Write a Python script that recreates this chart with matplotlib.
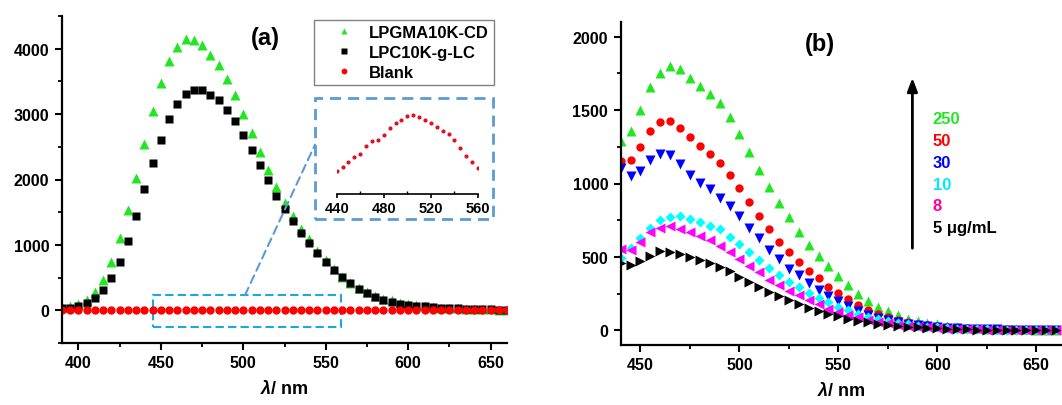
import matplotlib
matplotlib.use("Agg")
import matplotlib.pyplot as plt
from matplotlib.patches import Rectangle, ConnectionPatch
from matplotlib.ticker import MultipleLocator
import numpy as np

plt.rcParams['font.family'] = ['Liberation Sans', 'DejaVu Sans']
plt.rcParams['font.weight'] = 'bold'
plt.rcParams['mathtext.fontset'] = 'custom'
plt.rcParams['mathtext.it'] = 'Liberation Sans:bold:italic'
plt.rcParams['mathtext.rm'] = 'Liberation Sans:bold'
plt.rcParams['mathtext.bf'] = 'Liberation Sans:bold'

# (a) emission spectra, 390-660 nm
wl_a = np.arange(390, 661, 5)
lpgma = [50, 60, 100, 150, 280, 460, 740, 1105, 1540, 2030,
         2550, 3050, 3475, 3810, 4020, 4150, 4140, 4050, 3910, 3755,
         3530, 3285, 3000, 2710, 2420, 2150, 1885, 1640, 1435, 1250,
         1085, 905, 765, 630, 515, 420, 340, 280, 225, 180,
         150, 115, 95, 75, 65, 50, 40, 35, 30, 25,
         20, 18, 15, 12, 10]
lpc = [35, 40, 65, 115, 195, 315, 500, 745, 1060, 1440,
       1850, 2245, 2610, 2930, 3160, 3310, 3375, 3365, 3285, 3220,
       3065, 2900, 2680, 2455, 2215, 1985, 1755, 1555, 1360, 1185,
       1035, 880, 745, 620, 505, 415, 325, 260, 210, 165,
       130, 100, 85, 70, 60, 50, 42, 35, 30, 25,
       20, 18, 15, 12, 10]
blank = [1.2, 1.4, 1.6, 1.8, 2.0, 2.2, 2.5, 2.7, 3.0, 3.2,
         3.5, 4.1, 4.9, 5.6, 6.2, 7.35, 8.1, 8.35, 9.1, 10.2,
         10.95, 11.35, 11.9, 12.1, 11.85, 11.35, 10.9, 10.25, 9.6, 9.25,
         8.35, 7.0, 5.85, 4.9, 4.0, 3.4, 3.0, 2.7, 2.4, 2.2,
         2.0, 1.8, 1.7, 1.6, 1.5, 1.4, 1.3, 1.2, 1.1, 1.0,
         1.0, 0.9, 0.9, 0.8, 0.8]

# (b) concentration series, 440-660 nm
wl_b = np.arange(440, 661, 5)
c250 = [1291, 1360, 1503, 1656, 1754, 1800, 1781, 1720, 1667, 1613,
        1549, 1451, 1337, 1212, 1093, 973, 866, 770, 672, 581,
        506, 435, 367, 308, 248, 198, 159, 132, 103, 80,
        64, 50, 41, 30, 23, 18, 15, 12, 10, 8,
        7, 6, 5, 4, 4]
c50 = [1150, 1157, 1248, 1355, 1417, 1426, 1376, 1314, 1253, 1203,
       1139, 1059, 968, 875, 779, 690, 604, 531, 467, 405,
       353, 296, 255, 210, 175, 141, 114, 91, 73, 57,
       45, 35, 28, 22, 17, 13, 10, 8, 7, 6,
       5, 4, 4, 3, 3]
c30 = [1105, 1048, 1087, 1162, 1203, 1196, 1132, 1059, 1002, 964,
       904, 850, 779, 699, 626, 547, 483, 417, 376, 319,
       278, 235, 198, 166, 132, 107, 84, 68, 55, 44,
       35, 28, 22, 17, 13, 10, 8, 7, 6, 5,
       4, 4, 3, 3, 3]
c10 = [490, 558, 626, 695, 752, 772, 781, 761, 740, 713,
       690, 638, 588, 531, 476, 426, 380, 330, 294, 257,
       221, 194, 159, 137, 114, 91, 75, 62, 50, 40,
       32, 25, 20, 15, 12, 10, 8, 6, 5, 4,
       4, 3, 3, 3, 2]
c8 = [554, 547, 604, 672, 695, 711, 690, 672, 645, 615,
      576, 531, 485, 440, 394, 346, 308, 271, 239, 205,
      178, 148, 125, 107, 89, 73, 59, 48, 39, 31,
      25, 20, 16, 12, 10, 8, 6, 5, 4, 4,
      3, 3, 2, 2, 2]
c5 = [456, 444, 474, 508, 542, 535, 517, 501, 478, 456,
      433, 403, 364, 330, 294, 262, 232, 205, 178, 155,
      132, 114, 96, 80, 66, 55, 46, 36, 30, 24,
      20, 16, 13, 10, 8, 7, 5, 4, 4, 3,
      3, 2, 2, 2, 2]
conc_labels = ['250', '50', '30', '10', '8', '5 \u03bcg/mL']
conc_colors = ['#22e622', '#ff0000', '#0000ff', '#00e8ff', '#ff0099', '#000000']

W, H = 1062, 406
fig = plt.figure(figsize=(W / 100, H / 100), dpi=100)


def px_axes(x0, y0, x1, y1):
    return fig.add_axes([x0 / W, 1 - y1 / H, (x1 - x0) / W, (y1 - y0) / H])


def style(ax):
    for s in ['top', 'right']:
        ax.spines[s].set_visible(False)
    for s in ['left', 'bottom']:
        ax.spines[s].set_linewidth(1.6)
    ax.tick_params(which='major', direction='out', length=5, width=1.5,
                   labelsize=11.5, pad=4)
    ax.tick_params(which='minor', direction='out', length=3, width=1.3)
    for t in ax.get_xticklabels() + ax.get_yticklabels():
        t.set_fontweight('bold')


# ---- panel (a)
ax1 = px_axes(62, 17, 507, 344)
ax1.plot(wl_a, lpgma, '^', color='#22e622', ms=7, mec='none', label='LPGMA10K-CD')
ax1.plot(wl_a, lpc, 's', color='black', ms=5.5, mec='none', label='LPC10K-g-LC')
ax1.plot(wl_a, blank, 'o', color='#ff0000', ms=6, mec='none', label='Blank')
ax1.set_xlim(390, 660)
ax1.set_ylim(-500, 4500)
ax1.xaxis.set_major_locator(MultipleLocator(50))
ax1.xaxis.set_minor_locator(MultipleLocator(25))
ax1.yaxis.set_major_locator(MultipleLocator(1000))
ax1.yaxis.set_minor_locator(MultipleLocator(500))
style(ax1)
ax1.set_xlabel(r'$\lambda$/ nm', fontsize=13, fontweight='bold', labelpad=6)
ax1.text(0.456, 0.933, '(a)', transform=ax1.transAxes, ha='center', va='center',
         fontsize=17, fontweight='bold')
leg = ax1.legend(loc='upper left', bbox_to_anchor=(314 / W, 1 - 21 / H),
                 bbox_transform=fig.transFigure, borderaxespad=0,
                 prop={'weight': 'bold', 'size': 12}, fancybox=False,
                 edgecolor='#808080', framealpha=1, numpoints=1,
                 handlelength=3.0, handletextpad=0.0, borderpad=0.3,
                 labelspacing=0.3, markerscale=0.7)
leg.get_frame().set_linewidth(1.0)

# zoom box around the blank trace
ax1.add_patch(Rectangle((445, -250), 114, 480, fill=False, ec='#1aa8e0',
                        lw=1.5, ls=(0, (4, 2))))

# inset: blank trace magnified
axi = px_axes(336.7, 107, 478, 195)
sel = (wl_a >= 440) & (wl_a <= 560)
axi.plot(wl_a[sel], np.array(blank)[sel], 'o', color='#dd1122', ms=3, mec='none')
axi.set_xlim(440, 560)
axi.set_ylim(0, 13.5)
axi.patch.set_alpha(0)
for s in ['top', 'right', 'left']:
    axi.spines[s].set_visible(False)
axi.spines['bottom'].set_linewidth(1.2)
axi.set_yticks([])
axi.xaxis.set_major_locator(MultipleLocator(40))
axi.xaxis.set_minor_locator(MultipleLocator(20))
axi.tick_params(which='major', direction='out', length=3, width=1.2, labelsize=10.5, pad=2)
axi.tick_params(which='minor', direction='in', length=2, width=1.0)
for t in axi.get_xticklabels():
    t.set_fontweight('bold')

fig.add_artist(Rectangle((315 / W, 1 - 220 / H), 177.7 / W, 121 / H,
                         transform=fig.transFigure, fill=False, ec='#5b9bd5',
                         lw=2, ls=(0, (4, 2.5))))
fig.add_artist(ConnectionPatch(xyA=(501, 230), coordsA=ax1.transData,
                               xyB=(315 / W, 1 - 145.7 / H), coordsB=fig.transFigure,
                               color='#5b9bd5', lw=1.5, ls=(0, (4, 2.5))))

# ---- panel (b)
ax2 = px_axes(620.7, 23, 1062, 346)
ax2.plot(wl_b, c250, '^', color='#22e622', ms=6.5, mec='none')
ax2.plot(wl_b, c50, 'o', color='#ff0000', ms=6, mec='none')
ax2.plot(wl_b, c30, 'v', color='#0000ff', ms=6.5, mec='none')
ax2.plot(wl_b, c10, 'D', color='#00ffff', ms=5, mec='none')
ax2.plot(wl_b, c8, '<', color='#ff00ff', ms=6.5, mec='none')
ax2.plot(wl_b, c5, '>', color='black', ms=6.5, mec='none')
ax2.set_xlim(440, 663)
ax2.set_ylim(-100, 2100)
ax2.xaxis.set_major_locator(MultipleLocator(50))
ax2.xaxis.set_minor_locator(MultipleLocator(25))
ax2.yaxis.set_major_locator(MultipleLocator(500))
ax2.yaxis.set_minor_locator(MultipleLocator(250))
style(ax2)
ax2.set_xlabel(r'$\lambda$/ nm', fontsize=13, fontweight='bold', labelpad=6)
ax2.text(0.4516, 0.932, '(b)', transform=ax2.transAxes, ha='center', va='center',
         fontsize=17, fontweight='bold')
ax2.annotate('', xy=(0.661, 0.836), xytext=(0.661, 0.291), xycoords='axes fraction',
             arrowprops=dict(arrowstyle='-|>,head_length=0.8,head_width=0.3',
                             color='black', lw=2))
label_y = [0.6997, 0.6325, 0.5656, 0.4984, 0.4313, 0.3644]
for lab, col, yy in zip(conc_labels, conc_colors, label_y):
    ax2.text(0.707, yy, lab, transform=ax2.transAxes, color=col, ha='left',
             va='center', fontsize=12, fontweight='bold')

fig.savefig('out.png', dpi=100)
